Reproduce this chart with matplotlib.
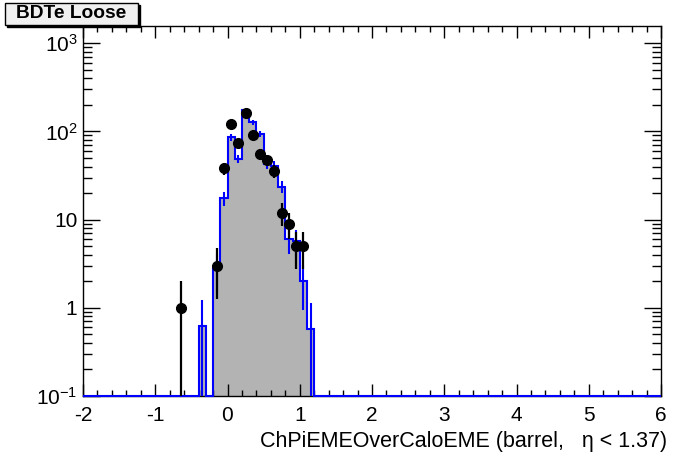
import numpy as np
import matplotlib
matplotlib.use("Agg")
import matplotlib.pyplot as plt
from matplotlib.patches import Rectangle
from matplotlib.ticker import FixedLocator, FixedFormatter, MultipleLocator, LogLocator, NullFormatter

plt.rcParams['font.family'] = ['Liberation Sans', 'DejaVu Sans']
plt.rcParams['mathtext.default'] = 'regular'
plt.rcParams['axes.unicode_minus'] = False

# ---------------- data ----------------
# MC histogram (blue outline, grey fill), 0.1-wide bins
mc_edges = [-0.4, -0.3, -0.2, -0.1, 0.0, 0.1, 0.2, 0.3, 0.4, 0.5, 0.6,
            0.7, 0.8, 0.9, 1.0, 1.1, 1.2]
mc_values = [0.62, 0.0, 2.75, 17.6, 86.0, 49.0, 176.0, 127.0, 93.0, 43.0,
             41.0, 23.5, 6.0, 5.7, 2.0, 0.58]
mc_errors = [0.61, 0.0, 1.28, 3.2, 7.2, 5.4, 10.3, 8.7, 7.5, 5.1,
             5.0, 3.7, 1.9, 2.0, 1.05, 0.55]

# Data points (black), bin centres and counts
data_x = [-0.65, -0.15, -0.05, 0.05, 0.15, 0.25, 0.35, 0.45, 0.55, 0.65,
          0.75, 0.85, 0.95, 1.05]
data_counts = [1, 3, 38, 120, 74, 160, 92, 55, 47, 36, 12, 9, 5, 5]

x_range = (-2, 6)
y_range = (0.1, 1585)
x_ticks = [-2, -1, 0, 1, 2, 3, 4, 5, 6]
x_ticklabels = ['-2', '-1', '0', '1', '2', '3', '4', '5', '6']
y_ticks = [0.1, 1, 10, 100, 1000]
y_ticklabels = ['10$^{-1}$', '1', '10', '10$^{2}$', '10$^{3}$']
xlabel = 'ChPiEMEOverCaloEME (barrel,   \u03b7 < 1.37)'
box_label = 'BDTe Loose'

# ---------------- figure ----------------
W, H = 696, 472
fig = plt.figure(figsize=(W / 100, H / 100), dpi=100)
ax = fig.add_axes([83 / W, 1 - 396 / H, (661 - 83) / W, (396 - 25.6) / H])
ax.set_yscale('log')
ax.set_xlim(*x_range)
ax.set_ylim(*y_range)

ymin = y_range[0]
edges_full = np.concatenate([[x_range[0]], mc_edges, [x_range[1]]])
vals = np.array(mc_values)
vals_full = np.concatenate([[0.0], vals, [0.0]])
vals_draw = np.where(vals_full > 0, vals_full, ymin)

ax.stairs(vals_draw, edges_full, baseline=ymin, fill=True,
          color='#b3b3b3', linewidth=0, zorder=1)
ax.stairs(vals_draw, edges_full, baseline=ymin, fill=False,
          color='#0000ff', linewidth=1.5, zorder=3, clip_on=False)

mc_centers = (np.array(mc_edges[:-1]) + np.array(mc_edges[1:])) / 2
errs = np.array(mc_errors)
nz = vals > 0
lo = np.minimum(errs[nz], vals[nz] * 0.9999)
ax.errorbar(mc_centers[nz], vals[nz], yerr=[lo, errs[nz]], fmt='none',
            ecolor='#0000ff', elinewidth=1.5, capsize=0, zorder=3)

dc = np.array(data_counts, dtype=float)
derr = np.sqrt(dc)
dlo = np.minimum(derr, dc * 0.9999)
ax.errorbar(data_x, dc, yerr=[dlo, derr], fmt='o', color='black',
            markersize=7, elinewidth=1.6, capsize=0, zorder=4)

# ticks
ax.xaxis.set_major_locator(FixedLocator(x_ticks))
ax.xaxis.set_major_formatter(FixedFormatter(x_ticklabels))
ax.xaxis.set_minor_locator(MultipleLocator(0.2))
ax.yaxis.set_major_locator(FixedLocator(y_ticks))
ax.yaxis.set_major_formatter(FixedFormatter(y_ticklabels))
ax.yaxis.set_minor_locator(LogLocator(base=10, subs=np.arange(2, 10)))
ax.yaxis.set_minor_formatter(NullFormatter())

ax.tick_params(axis='both', which='both', direction='in', top=True,
               right=True, width=1, colors='black', labelsize=15)
ax.tick_params(axis='x', which='major', length=8.6, pad=7)
ax.tick_params(axis='x', which='minor', length=4.3)
ax.tick_params(axis='y', which='major', length=12.2, pad=4)
ax.tick_params(axis='y', which='minor', length=6.4)
for s in ax.spines.values():
    s.set_linewidth(1)

ax.set_xlabel(xlabel, fontsize=15.5, ha='right')
ax.xaxis.set_label_coords(1.01, -0.095)

# label box
bx, by, bw, bh = 5, 3, 133, 22
fig.patches.append(Rectangle(((bx + 2) / W, 1 - (by + bh + 2) / H), bw / W, bh / H,
                             transform=fig.transFigure, facecolor='black',
                             edgecolor='black', zorder=5))
fig.patches.append(Rectangle((bx / W, 1 - (by + bh) / H), bw / W, bh / H,
                             transform=fig.transFigure, facecolor='#f0f0f0',
                             edgecolor='black', linewidth=1, zorder=6))
fig.text((bx + bw / 2) / W, 1 - (by + bh / 2) / H, box_label, ha='center',
         va='center', fontsize=13.8, fontweight='bold', zorder=7)

fig.savefig('out.png', dpi=100)
